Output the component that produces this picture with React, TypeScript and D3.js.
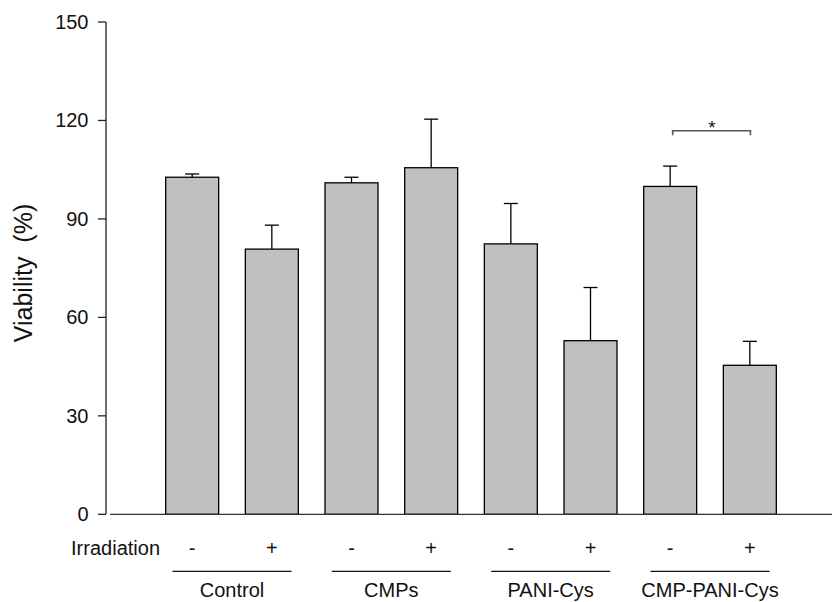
import React from "react";
import * as d3 from "d3";

const groups = ["Control", "CMPs", "PANI-Cys", "CMP-PANI-Cys"];
const irradiation = ["-", "+"];
const means = [102.7, 80.8, 101.0, 105.6, 82.4, 52.9, 99.9, 45.4];
const errTops = [103.7, 88.1, 102.7, 120.4, 94.7, 69.1, 106.1, 52.7];
const yTicks = [0, 30, 60, 90, 120, 150];
const sigPair = [6, 7];
const sigLabel = "*";

const W = 832;
const H = 602;
const FONT = "'Liberation Sans', Arial, sans-serif";

export default function App() {
  const ids = means.map((_, i) => String(i));
  const x = d3
    .scaleBand<string>()
    .domain(ids)
    .range([112.3, 829.7])
    .paddingInner(0.335)
    .paddingOuter(0.67);
  const y = d3.scaleLinear().domain([0, 150]).range([514.3, 22]);
  const bw = x.bandwidth();
  const cx = (i: number) => (x(String(i)) as number) + bw / 2;
  const axisX = 106;
  const capHalf = 7;

  const sigY = 130.7;
  return (
    <svg
      width={W}
      height={H}
      style={{ position: "absolute", left: 0, top: 0, background: "#fff" }}
      fontFamily={FONT}
    >
      {/* bars */}
      {means.map((m, i) => (
        <g key={i}>
          <line
            x1={cx(i)}
            x2={cx(i)}
            y1={y(m)}
            y2={y(errTops[i])}
            stroke="#000"
            strokeWidth={1.3}
          />
          <line
            x1={cx(i) - capHalf}
            x2={cx(i) + capHalf}
            y1={y(errTops[i])}
            y2={y(errTops[i])}
            stroke="#000"
            strokeWidth={1.3}
          />
          <rect
            x={x(String(i))}
            y={y(m)}
            width={bw}
            height={y(0) - y(m)}
            fill="#c0c0c0"
            stroke="#000"
            strokeWidth={1.3}
          />
        </g>
      ))}
      {/* x axis line */}
      <line x1={110} x2={832} y1={y(0)} y2={y(0)} stroke="#333" strokeWidth={1.3} />
      {/* y axis */}
      <line x1={axisX} x2={axisX} y1={y(150)} y2={y(0)} stroke="#222" strokeWidth={1.3} />
      {yTicks.map((t) => (
        <g key={t}>
          <line x1={axisX - 8} x2={axisX} y1={y(t)} y2={y(t)} stroke="#222" strokeWidth={1.3} />
          <text
            x={88.5}
            y={y(t)}
            textAnchor="end"
            dominantBaseline="central"
            fontSize={20}
            fill="#111"
          >
            {t}
          </text>
        </g>
      ))}
      <text
        transform={`translate(32,273) rotate(-90)`}
        textAnchor="middle"
        fontSize={25}
        fill="#111"
        style={{ whiteSpace: "pre" }}
      >
        {"Viability  (%)"}
      </text>
      {/* irradiation row */}
      <text x={160} y={554.5} textAnchor="end" fontSize={20} fill="#111">
        Irradiation
      </text>
      {means.map((_, i) => (
        <text key={i} x={cx(i)} y={554.5} textAnchor="middle" fontSize={20} fill="#111">
          {irradiation[i % 2]}
        </text>
      ))}
      {/* group lines and labels */}
      {groups.map((g, gi) => {
        const c = (cx(gi * 2) + cx(gi * 2 + 1)) / 2;
        return (
          <g key={g}>
            <line x1={c - 59.5} x2={c + 59.5} y1={571.3} y2={571.3} stroke="#111" strokeWidth={1.3} />
            <text x={c} y={597} textAnchor="middle" fontSize={20} fill="#111">
              {g}
            </text>
          </g>
        );
      })}
      {/* significance bracket */}
      <path
        d={`M${cx(sigPair[0]) + 2.5},${sigY + 4.5}V${sigY}H${cx(sigPair[1]) + 0.6}V${sigY + 4.5}`}
        fill="none"
        stroke="#555"
        strokeWidth={1.6}
      />
      <text
        x={(cx(sigPair[0]) + cx(sigPair[1])) / 2 + 2}
        y={134}
        textAnchor="middle"
        fontSize={19}
        fill="#111"
      >
        {sigLabel}
      </text>
    </svg>
  );
}
